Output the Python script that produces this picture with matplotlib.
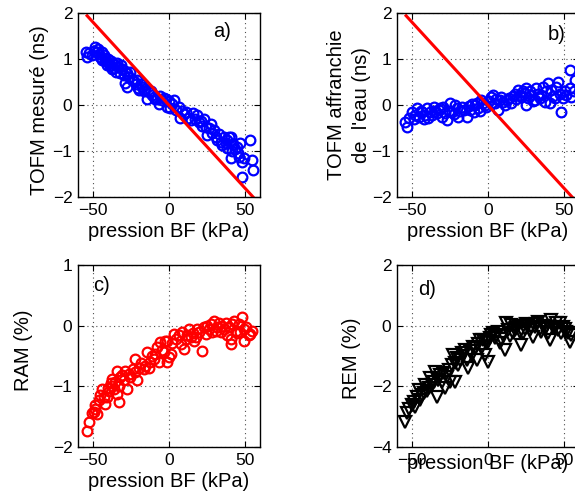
import matplotlib
matplotlib.use('Agg')
import matplotlib.pyplot as plt

plt.rcParams['font.family'] = ['Liberation Sans', 'DejaVu Sans']

# a) TOFM mesure
xa = [-54.4, -53.9, -52.5, -50.7, -49.5, -48.5, -47.5, -46.5, -46, -45.2, -44.5, -44, -43, -42.5, -41.9,
      -41, -40.5, -39.5, -38.6, -38, -37.5, -36.4, -36, -35, -34.2, -33.5, -32.5, -31.8, -30.9, -30,
      -29, -28.7, -27.6, -27.4, -26.5, -25.4, -24.5, -23, -22, -21, -20.5, -19.9, -18.6, -17.8, -16.5,
      -15.5, -14.5, -13.5, -12.1, -11.2, -10, -9, -7.9, -6.6, -5.7, -4.5, -3.2, -2.2, -1.3, 0,
      0.8, 2.2, 3.3, 4.5, 6.6, 7.0, 8.5, 10, 11, 12.5, 14.3, 15.5, 17, 18.6, 19.7,
      20.8, 22, 23, 24.1, 25.2, 26.3, 27.5, 28.5, 29.6, 30.7, 31.8, 33, 34, 35.1, 36.5,
      37.5, 38.4, 38.4, 39.5, 40.6, 40.6, 41.6, 42.5, 43.5, 44.9, 45.5, 46, 47.1, 48.2, 48.2,
      49.3, 53.7, 54.8, 55.3]
ya = [1.16, 1.05, 1.12, 1.09, 1.18, 1.27, 1.15, 1.22, 1.10, 1.05, 1.15, 0.98, 1.08, 0.95, 1.02,
      0.88, 1.00, 0.92, 0.85, 0.96, 0.78, 0.80, 0.90, 0.72, 0.91, 0.82, 0.70, 0.86, 0.78, 0.66,
      0.74, 0.47, 0.69, 0.40, 0.60, 0.72, 0.55, 0.52, 0.45, 0.55, 0.38, 0.33, 0.45, 0.40, 0.30,
      0.35, 0.14, 0.28, 0.30, 0.22, 0.18, 0.12, 0.14, 0.02, 0.20, 0.10, 0.16, 0.12, -0.04, 0.08,
      -0.07, 0.02, 0.11, -0.10, -0.04, -0.29, -0.12, -0.20, -0.16, -0.28, -0.33, -0.18, -0.30, -0.22, -0.38,
      -0.34, -0.45, -0.30, -0.47, -0.65, -0.50, -0.42, -0.60, -0.54, -0.70, -0.76, -0.62, -0.80, -0.87, -0.70,
      -0.82, -0.76, -0.94, -0.70, -0.69, -1.16, -1.01, -0.85, -0.95, -0.91, -1.05, -1.12, -0.83, -1.23, -1.56,
      -1.15, -0.76, -1.20, -1.41]

# b) TOFM affranchie de l'eau
xb = [-54.6, -53.5, -52, -50.2, -49, -48, -46.9, -45.5, -44.5, -43.6, -42.5, -41.4, -40.3, -39.5, -38.2,
      -37, -35.9, -35, -33.8, -32.5, -31.6, -30.5, -29.5, -28.5, -27.2, -26, -25, -23.9, -22.5, -21.5,
      -20.6, -19.5, -18.5, -17.3, -16, -14, -12.8, -11.8, -10.5, -9.5, -8.6, -7.5, -6.3, -5.5, -4.3,
      -3, -2.2, -1.1, 0.5, 2.2, 3.3, 4.4, 5.5, 6.6, 7.7, 8.8, 10, 11, 12.5, 14,
      15.4, 16.5, 17.6, 18.5, 19.7, 20.8, 21.9, 23, 24.1, 25.2, 25.2, 26.5, 27.5, 28.5, 29.5,
      30.7, 31.8, 33, 34, 35.1, 36.2, 37.3, 38.4, 39.5, 40.6, 41.7, 42.8, 43.9, 45, 46.1,
      47.2, 48.3, 49.3, 50.5, 51.5, 53.8, 53.8, 54.9, 56.5, 57.5]
yb = [-0.36, -0.47, -0.28, -0.15, -0.30, -0.22, -0.07, -0.25, -0.12, -0.15, -0.30, -0.22, -0.07, -0.28, -0.15,
      -0.22, -0.04, -0.12, -0.18, -0.10, -0.07, -0.25, -0.05, -0.18, -0.33, -0.12, 0.04, -0.15, -0.20, 0.00,
      -0.07, -0.25, -0.12, -0.04, -0.10, -0.25, -0.02, -0.11, 0.02, -0.15, 0.00, 0.05, -0.07, -0.14, 0.11,
      0.04, 0.00, -0.04, 0.08, 0.18, 0.22, 0.04, 0.12, -0.11, 0.11, 0.18, 0.06, 0.00, 0.10, 0.15,
      0.04, 0.20, 0.25, 0.12, 0.33, 0.22, 0.18, 0.30, 0.26, 0.36, 0.00, 0.15, 0.30, 0.22, 0.08,
      0.11, 0.36, 0.25, 0.15, 0.22, 0.40, 0.07, 0.30, 0.47, 0.04, 0.33, 0.20, 0.15, 0.40, 0.51,
      0.25, -0.15, 0.15, 0.30, 0.22, 0.76, 0.36, 0.18, 0.30, 0.55]

# red reference line (a and b)
x_line = [-54, 56]
y_line = [1.94, -2.02]

# c) RAM
xc = [-53.9, -52.8, -50.7, -49.5, -48.5, -48.5, -47.4, -46.3, -45.2, -44.1, -43, -41.9, -40.8, -40, -39.7,
      -38.5, -37.5, -37.5, -36.5, -35.3, -34.2, -34.2, -33.1, -33.1, -32, -30.9, -29.8, -28.7, -27.6, -26.5,
      -25.5, -24, -22.2, -22.2, -21.1, -20, -18.5, -16.7, -15.6, -14.5, -13.4, -12.3, -11, -10, -9,
      -7.8, -6.8, -5.7, -4.6, -3.5, -2.4, -1.3, -0.2, -1.1, 1.1, 2.2, 3.3, 4.5, 6.6, 7.7,
      8.8, 9.9, 11, 12, 13.2, 14.3, 15.5, 16.5, 17.6, 18.6, 20, 21.9, 23, 24.1, 25.2,
      26.5, 27.5, 28.5, 29.6, 30.7, 31.8, 32.9, 34, 35.1, 36.2, 37.3, 38.4, 39.5, 40.6, 40.6,
      41.7, 42.8, 43.9, 45, 46.1, 47.1, 48.2, 49.3, 49.3, 50.5, 52.6, 53.7, 54.8]
yc = [-1.73, -1.58, -1.44, -1.42, -1.30, -1.37, -1.45, -1.23, -1.15, -1.04, -1.18, -1.29, -1.18, -1.02, -1.07,
      -0.95, -0.99, -0.88, -1.05, -0.93, -1.12, -0.74, -1.26, -0.99, -0.85, -0.82, -0.90, -0.74, -1.04, -0.80,
      -0.85, -0.72, -0.77, -0.55, -0.90, -0.69, -0.62, -0.71, -0.66, -0.44, -0.69, -0.60, -0.50, -0.55, -0.47,
      -0.35, -0.60, -0.27, -0.40, -0.44, -0.25, -0.60, -0.52, -0.25, -0.47, -0.28, -0.14, -0.22, -0.16, -0.30,
      -0.10, -0.38, -0.22, -0.15, -0.05, -0.19, -0.12, -0.25, -0.19, -0.05, -0.10, -0.41, -0.02, -0.14, 0.00,
      -0.06, 0.02, -0.10, 0.08, -0.08, -0.02, 0.05, -0.11, 0.00, -0.06, 0.05, -0.15, -0.03, -0.30, -0.22,
      0.02, 0.08, -0.08, -0.12, 0.03, -0.10, 0.14, -0.25, -0.05, -0.02, -0.16, -0.14, -0.08]

# d) REM
xd = [-54.6, -53.5, -52, -50.2, -49, -48, -46.9, -45.8, -44.7, -43.5, -42.5, -41.4, -40.3, -39.2, -38.2,
      -37, -35.9, -34.9, -33.8, -32.7, -31.6, -30.5, -29.4, -28.3, -27.2, -26, -25, -23.9, -22.8, -21.7,
      -21.7, -20.5, -19.5, -18.4, -17.3, -16.2, -15.1, -14, -12.9, -11.8, -10.7, -9.6, -8.6, -7.4, -6.3,
      -5.3, -4.2, -3.3, -2.2, -1.1, 0, 0, 1.1, 2.2, 3.3, 4.4, 5.5, 6.6, 7.7, 8.8,
      10, 11, 12.1, 13.2, 14.3, 15.4, 16.4, 17.6, 18.7, 19.8, 21, 22, 23, 24.2, 25.2,
      26.3, 27.4, 28.5, 29.6, 30.7, 31.8, 32.9, 34, 35.1, 36.2, 37.3, 38.4, 39.5, 40.6, 41.7,
      42.8, 43.9, 45, 46.1, 47.2, 48.3, 49.4, 50.5, 51.5, 52.6, 53.8, 55]
yd = [-3.17, -2.89, -2.75, -2.62, -2.50, -2.67, -2.34, -2.12, -2.45, -2.30, -2.23, -1.96, -2.15, -2.07, -1.74,
      -1.95, -1.85, -1.52, -2.34, -1.80, -1.63, -1.85, -1.55, -2.07, -1.68, -1.45, -1.85, -1.30, -0.97, -1.24,
      -1.85, -1.05, -1.30, -1.13, -0.91, -1.00, -0.80, -1.13, -1.41, -0.85, -0.97, -0.70, -0.75, -1.13, -0.60,
      -0.47, -0.70, -0.47, -0.97, -0.55, -0.53, -1.19, -0.40, -0.30, -0.25, -0.42, -0.35, -0.20, -0.58, -0.45,
      -0.30, -0.80, 0.08, -0.15, -0.35, 0.02, -0.25, -0.15, -0.09, 0.00, -0.20, -0.64, -0.25, -0.10, 0.05,
      0.02, -0.15, -0.05, -0.36, -0.03, 0.05, 0.13, -0.10, -0.20, 0.00, -0.12, -0.03, -0.25, -0.47, 0.19,
      -0.05, -0.09, 0.10, -0.15, 0.08, -0.25, -0.05, -0.12, -0.20, -0.25, -0.53, -0.30]

fig = plt.figure(figsize=(5.75, 4.94), dpi=100)

def setup(ax, ylim, yticks, ylabel, tag, tag_pos, ylab_pos, xlab_pad=3):
    ax.set_xlim(-60, 60)
    ax.set_ylim(ylim)
    ax.set_xticks([-50, 0, 50])
    ax.set_yticks(yticks)
    ax.grid(True, color='0.3', linestyle=(0, (1, 3)), linewidth=0.8)
    ax.tick_params(direction='in', top=True, right=True, length=4, width=0.8,
                   labelsize=12.5, pad=4)
    for s in ax.spines.values():
        s.set_linewidth(1.0)
    ax.set_xlabel('pression BF (kPa)', fontsize=14.5, labelpad=xlab_pad)
    ax.set_ylabel(ylabel, fontsize=14.5, linespacing=1.4, ha='center', va='center')
    ax.yaxis.set_label_coords(*ylab_pos)
    ax.text(tag_pos[0], tag_pos[1], tag, transform=ax.transAxes, fontsize=14.5,
            ha='center', va='center')

W = 182 / 575
ax_a = fig.add_axes([78 / 575, 297 / 494, W, 184 / 494])
ax_b = fig.add_axes([397 / 575, 297 / 494, W, 184 / 494])
ax_c = fig.add_axes([78 / 575, 47 / 494, W, 182 / 494])
ax_d = fig.add_axes([397 / 575, 47 / 494, W, 182 / 494])

ax_a.plot(xa, ya, 'o', mfc='none', mec='blue', ms=7, mew=1.6)
ax_a.plot(x_line, y_line, '-', color='red', lw=2.2)
setup(ax_a, (-2, 2), [-2, -1, 0, 1, 2], 'TOFM mesuré (ns)', 'a)', (0.79, 0.90), (-0.21, 0.47))

ax_b.plot(xb, yb, 'o', mfc='none', mec='blue', ms=7, mew=1.6)
ax_b.plot(x_line, y_line, '-', color='red', lw=2.2)
setup(ax_b, (-2, 2), [-2, -1, 0, 1, 2], "TOFM affranchie\nde  l'eau (ns)", 'b)', (0.875, 0.885), (-0.266, 0.5))

ax_c.plot(xc, yc, 'o', mfc='none', mec='red', ms=7, mew=1.6)
setup(ax_c, (-2, 1), [-2, -1, 0, 1], 'RAM (%)', 'c)', (0.13, 0.89), (-0.30, 0.53))

ax_d.plot(xd, yd, 'v', mfc='none', mec='black', ms=8, mew=1.6)
setup(ax_d, (-4, 2), [-4, -2, 0, 2], 'REM (%)', 'd)', (0.165, 0.865), (-0.25, 0.49), xlab_pad=-10)

fig.savefig('out.png', dpi=100)
